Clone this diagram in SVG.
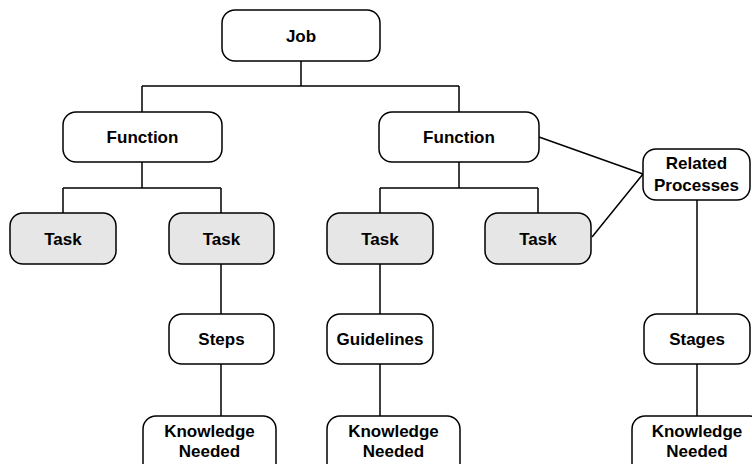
<svg xmlns="http://www.w3.org/2000/svg" width="752" height="464" viewBox="0 0 752 464">
<style>
.box{fill:#fff;stroke:#000;stroke-width:1.5}
.task{fill:#e6e6e6;stroke:#000;stroke-width:1.5}
.lbl{font-family:"Liberation Sans",Arial,sans-serif;font-weight:bold;font-size:17px;text-anchor:middle;fill:#000}
.con{stroke:#000;stroke-width:1.5;fill:none}
</style>
<rect width="752" height="464" fill="#fff"/>
<g id="connectors" class="con">
<path d="M301,61V86M142,86H459M142,86V112M459,86V112"/>
<path d="M142,162V188M63,188H221M63,188V213M221,188V213"/>
<path d="M459,162V188M380,188H538M380,188V213M538,188V213"/>
<path d="M221,264V314M221,364V416"/>
<path d="M380,264V314M380,364V416"/>
<path d="M697,200V314M697,364V416"/>
<path d="M539,137L643,174M592,237L643,174"/>
</g>
<g id="job"><rect class="box" x="222" y="10" width="158" height="51" rx="13"/><text class="lbl" x="301" y="42">Job</text></g>
<g id="function1"><rect class="box" x="63" y="112" width="159" height="50" rx="13"/><text class="lbl" x="142.5" y="143">Function</text></g>
<g id="function2"><rect class="box" x="379" y="112" width="160" height="50" rx="13"/><text class="lbl" x="459" y="143">Function</text></g>
<g id="task1"><rect class="task" x="10" y="213" width="106" height="51" rx="13"/><text class="lbl" x="63" y="244.5">Task</text></g>
<g id="task2"><rect class="task" x="169" y="213" width="105" height="51" rx="13"/><text class="lbl" x="221.5" y="244.5">Task</text></g>
<g id="task3"><rect class="task" x="327" y="213" width="106" height="51" rx="13"/><text class="lbl" x="380" y="244.5">Task</text></g>
<g id="task4"><rect class="task" x="485" y="213" width="106" height="51" rx="13"/><text class="lbl" x="538" y="244.5">Task</text></g>
<g id="related"><rect class="box" x="643" y="149" width="107" height="51" rx="13"/><text class="lbl" x="696.5" y="169">Related</text><text class="lbl" x="696.5" y="191">Processes</text></g>
<g id="steps"><rect class="box" x="169" y="314" width="105" height="50" rx="13"/><text class="lbl" x="221.5" y="345">Steps</text></g>
<g id="guidelines"><rect class="box" x="327" y="314" width="106" height="50" rx="13"/><text class="lbl" x="380" y="345">Guidelines</text></g>
<g id="stages"><rect class="box" x="644" y="314" width="106" height="50" rx="13"/><text class="lbl" x="697" y="345">Stages</text></g>
<g id="knowledge1"><rect class="box" x="143" y="416" width="133" height="60" rx="13"/><text class="lbl" x="209.5" y="437">Knowledge</text><text class="lbl" x="209.5" y="457">Needed</text></g>
<g id="knowledge2"><rect class="box" x="327" y="416" width="133" height="60" rx="13"/><text class="lbl" x="393.5" y="437">Knowledge</text><text class="lbl" x="393.5" y="457">Needed</text></g>
<g id="knowledge3"><rect class="box" x="632" y="416" width="131" height="60" rx="13"/><text class="lbl" x="697" y="437">Knowledge</text><text class="lbl" x="697" y="457">Needed</text></g>
</svg>
